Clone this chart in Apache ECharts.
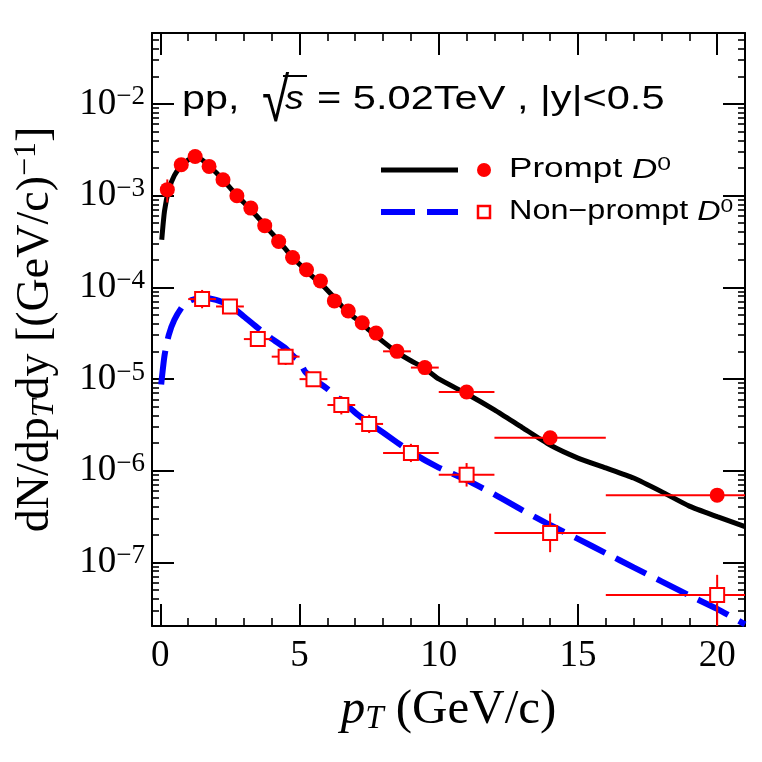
<!DOCTYPE html>
<html><head><meta charset="utf-8">
<script src="https://cdn.jsdelivr.net/npm/echarts@6/dist/echarts.min.js"></script>
<style>html,body{margin:0;padding:0;background:#fff}#c{width:762px;height:762px}</style>
</head><body><div id="c"></div>
<script>
// ---------------- data ----------------
const xMajor = [0, 5, 10, 15, 20];
const xMinor = [1, 2, 3, 4, 6, 7, 8, 9, 11, 12, 13, 14, 16, 17, 18, 19];
const yMajorExp = [-7, -6, -5, -4, -3, -2];
const X_MIN = -0.3, X_MAX = 21.0;
const Y_MIN = 2.02e-8, Y_MAX = 5.93e-2;

// Prompt D0 data points
const promptPt   = [0.25, 0.75, 1.25, 1.75, 2.25, 2.75, 3.25, 3.75, 4.25, 4.75, 5.25, 5.75, 6.25, 6.75, 7.25, 7.75, 8.5, 9.5, 11, 14, 20];
const promptPtLo = [0, 0.5, 1, 1.5, 2, 2.5, 3, 3.5, 4, 4.5, 5, 5.5, 6, 6.5, 7, 7.5, 8, 9, 10, 12, 16];
const promptPtHi = [0.5, 1, 1.5, 2, 2.5, 3, 3.5, 4, 4.5, 5, 5.5, 6, 6.5, 7, 7.5, 8, 9, 10, 12, 16, 24];
const promptY    = [1.16e-3, 2.17e-3, 2.67e-3, 2.08e-3, 1.49e-3, 9.95e-4, 7.3e-4, 4.7e-4, 3.16e-4, 2.11e-4, 1.55e-4, 1.17e-4, 7.1e-5, 5.5e-5, 4.1e-5, 3.16e-5, 2.0e-5, 1.33e-5, 7.2e-6, 2.28e-6, 5.4e-7];
const promptYLo  = [8.4e-4, 2.0e-3, 2.5e-3, 1.95e-3, 1.4e-3, 9.3e-4, 6.8e-4, 4.4e-4, 2.95e-4, 1.97e-4, 1.45e-4, 1.09e-4, 6.6e-5, 5.1e-5, 3.8e-5, 2.9e-5, 1.85e-5, 1.22e-5, 6.6e-6, 2.05e-6, 4.7e-7];
const promptYHi  = [1.5e-3, 2.35e-3, 2.85e-3, 2.22e-3, 1.6e-3, 1.07e-3, 7.8e-4, 5.0e-4, 3.38e-4, 2.26e-4, 1.66e-4, 1.25e-4, 7.6e-5, 5.9e-5, 4.4e-5, 3.4e-5, 2.15e-5, 1.44e-5, 7.8e-6, 2.5e-6, 6.1e-7];

// Non-prompt D0 data points
const npPt   = [1.5, 2.5, 3.5, 4.5, 5.5, 6.5, 7.5, 9, 11, 14, 20];
const npPtLo = [1, 2, 3, 4, 5, 6, 7, 8, 10, 12, 16];
const npPtHi = [2, 3, 4, 5, 6, 7, 8, 10, 12, 16, 24];
const npY    = [7.43e-5, 6.17e-5, 2.72e-5, 1.75e-5, 9.95e-6, 5.2e-6, 3.23e-6, 1.56e-6, 9.0e-7, 2.09e-7, 4.4e-8];
const npYLo  = [5.9e-5, 5.1e-5, 2.26e-5, 1.42e-5, 8.3e-6, 4.1e-6, 2.57e-6, 1.24e-6, 6.7e-7, 1.29e-7, 1.4e-8];
const npYHi  = [9.35e-5, 7.4e-5, 3.27e-5, 2.15e-5, 1.19e-5, 6.5e-6, 4.07e-6, 1.96e-6, 1.21e-6, 3.4e-7, 7.3e-8];

// Model curves
const promptCurveX = [0.05, 0.15, 0.3, 0.5, 0.75, 1.0, 1.25, 1.5, 1.75, 2.0, 2.25, 2.5, 2.75, 3.0, 3.25, 3.5, 3.75, 4.0, 4.25, 4.5, 4.75, 5.0, 5.25, 5.5, 5.75, 6.0, 6.25, 6.5, 6.75, 7.0, 7.5, 8.0, 8.5, 9.0, 9.5, 10, 11, 12, 13, 14, 15, 16, 17, 18, 19, 20, 21];
const promptCurveY = [3.3e-4, 6.8e-4, 1.15e-3, 1.65e-3, 2.1e-3, 2.45e-3, 2.58e-3, 2.45e-3, 2.1e-3, 1.78e-3, 1.48e-3, 1.22e-3, 1.0e-3, 8.4e-4, 7.0e-4, 5.8e-4, 4.75e-4, 3.9e-4, 3.2e-4, 2.6e-4, 2.12e-4, 1.78e-4, 1.5e-4, 1.28e-4, 1.1e-4, 9.3e-5, 7.7e-5, 6.3e-5, 5.3e-5, 4.6e-5, 3.4e-5, 2.55e-5, 1.95e-5, 1.58e-5, 1.3e-5, 1.0e-5, 6.9e-6, 4.6e-6, 2.95e-6, 1.9e-6, 1.37e-6, 1.07e-6, 8.3e-7, 5.9e-7, 4.1e-7, 3.15e-7, 2.45e-7];
const npCurveX = [0.03, 0.15, 0.3, 0.5, 0.8, 1.1, 1.5, 2.0, 2.5, 3.0, 3.5, 4.0, 4.5, 4.8, 5.0, 5.2, 5.5, 6.0, 6.5, 7.0, 7.5, 8.0, 9.0, 10, 11, 12, 13, 14, 15, 16, 17, 18, 19, 20, 21];
const npCurveY = [8.7e-6, 1.8e-5, 3.0e-5, 4.4e-5, 6.2e-5, 7.2e-5, 7.7e-5, 7.3e-5, 6.3e-5, 4.8e-5, 3.6e-5, 2.75e-5, 2.15e-5, 1.75e-5, 1.55e-5, 1.2e-5, 1.0e-5, 7.8e-6, 5.8e-6, 4.3e-6, 3.3e-6, 2.6e-6, 1.6e-6, 1.08e-6, 7.9e-7, 5.5e-7, 3.7e-7, 2.55e-7, 1.8e-7, 1.26e-7, 8.8e-8, 6.2e-8, 4.35e-8, 3.1e-8, 2.1e-8];

// ---------------- build ----------------
const L = v => Math.log10(v);
const LOG_MIN = L(Y_MIN), LOG_MAX = L(Y_MAX);
const yMinor = [];
for (let e = -8; e <= -2; e++) for (let k = 2; k <= 9; k++) {
  const v = e + Math.log10(k);
  if (v > LOG_MIN && v < LOG_MAX) yMinor.push(v);
}
const SERIF = 'Liberation Serif';
const SANS = 'Liberation Sans';

function errItem(params, api) {
  const x = api.value(0), y = api.value(1);
  const xl = Math.max(api.value(2), X_MIN), xh = Math.min(api.value(3), X_MAX);
  const yl = Math.max(api.value(4), LOG_MIN), yh = Math.min(api.value(5), LOG_MAX);
  const a = api.coord([xl, y]), b = api.coord([xh, y]);
  const c = api.coord([x, yl]), d = api.coord([x, yh]);
  const st = { stroke: '#ff0000', lineWidth: 2 };
  return { type: 'group', children: [
    { type: 'line', shape: { x1: a[0], y1: a[1], x2: b[0], y2: b[1] }, style: st },
    { type: 'line', shape: { x1: c[0], y1: c[1], x2: d[0], y2: d[1] }, style: st }
  ]};
}

const tickLine = { color: '#000', width: 2 };
function xAx(pos, values, len, main) {
  return {
    type: 'value', min: X_MIN, max: X_MAX, position: pos,
    axisLine: { show: main, onZero: false, lineStyle: tickLine },
    axisTick: { show: true, inside: true, length: len, customValues: values, lineStyle: { color: '#000', width: main ? 2 : 1.6 } },
    axisLabel: (main && pos === 'bottom') ? { show: true, customValues: xMajor, fontFamily: SERIF, fontSize: 37, color: '#000', margin: 12 } : { show: false },
    splitLine: { show: false }
  };
}
function yAx(pos, values, len, main) {
  return {
    type: 'value', min: LOG_MIN, max: LOG_MAX, position: pos,
    axisLine: { show: main, onZero: false, lineStyle: tickLine },
    axisTick: { show: true, inside: true, length: len, customValues: values, lineStyle: { color: '#000', width: main ? 2 : 1.6 } },
    axisLabel: (main && pos === 'left') ? {
      show: true, customValues: yMajorExp, margin: 7,
      formatter: v => '{b|10}{s|\u2212' + Math.round(-v) + '}',
      rich: {
        b: { fontFamily: SERIF, fontSize: 37, color: '#000', lineHeight: 40 },
        s: { fontFamily: SERIF, fontSize: 27, color: '#000', lineHeight: 27, verticalAlign: 'top' }
      }
    } : { show: false },
    splitLine: { show: false }
  };
}

const xAxes = [xAx('bottom', xMajor, 22, true), xAx('bottom', xMinor, 8, false), xAx('top', xMajor, 22, true), xAx('top', xMinor, 8, false)];
xAxes[0].name = '{i|p}{sub|T}{n| (GeV/c)}';
xAxes[0].nameLocation = 'middle';
xAxes[0].nameGap = 58;
xAxes[0].nameTextStyle = { rich: {
  i: { fontFamily: SERIF, fontStyle: 'italic', fontSize: 49, color: '#000', lineHeight: 52 },
  sub: { fontFamily: SERIF, fontStyle: 'italic', fontSize: 33, color: '#000', lineHeight: 33, verticalAlign: 'bottom' },
  n: { fontFamily: SERIF, fontSize: 49, color: '#000', lineHeight: 52 }
}};
const yAxes = [yAx('left', yMajorExp, 22, true), yAx('left', yMinor, 7, false), yAx('right', yMajorExp, 22, true), yAx('right', yMinor, 7, false)];
yAxes[0].name = '{n|dN/dp}{sub|T}{n|dy [(GeV/c)}{sup|\u22121}{n|]}';
yAxes[0].nameLocation = 'middle';
yAxes[0].nameGap = 91;
yAxes[0].nameTextStyle = { rich: {
  n: { fontFamily: SERIF, fontSize: 46, color: '#000', lineHeight: 50 },
  sub: { fontFamily: SERIF, fontStyle: 'italic', fontSize: 32, color: '#000', lineHeight: 32, verticalAlign: 'bottom' },
  sup: { fontFamily: SERIF, fontSize: 32, color: '#000', lineHeight: 32, verticalAlign: 'top' }
}};

const titleFont = { fontFamily: SANS, fontSize: 33, fill: '#000' };
const option = {
  animation: false,
  backgroundColor: '#fff',
  grid: { left: 152, top: 33, right: 17, bottom: 136, containLabel: false },
  xAxis: xAxes,
  yAxis: yAxes,
  series: [
    { name: 'Prompt model', type: 'line', xAxisIndex: 0, yAxisIndex: 0, showSymbol: false, symbol: 'none', smooth: 0.2, clip: true, z: 2,
      lineStyle: { color: '#000', width: 5 },
      data: promptCurveX.map((x, i) => [x, L(promptCurveY[i])]) },
    { name: 'Non-prompt model', type: 'line', xAxisIndex: 0, yAxisIndex: 0, showSymbol: false, symbol: 'none', smooth: 0.2, clip: true, z: 2,
      lineStyle: { color: '#0000ff', width: 6, type: [34, 12] },
      data: npCurveX.map((x, i) => [x, L(npCurveY[i])]) },
    { name: 'Prompt err', type: 'custom', xAxisIndex: 0, yAxisIndex: 0, renderItem: errItem, clip: true, z: 3,
      encode: { x: 0, y: 1 },
      data: promptPt.map((x, i) => [x, L(promptY[i]), promptPtLo[i], promptPtHi[i], L(promptYLo[i]), L(promptYHi[i])]) },
    { name: 'Non-prompt err', type: 'custom', xAxisIndex: 0, yAxisIndex: 0, renderItem: errItem, clip: true, z: 3,
      encode: { x: 0, y: 1 },
      data: npPt.map((x, i) => [x, L(npY[i]), npPtLo[i], npPtHi[i], L(npYLo[i]), L(npYHi[i])]) },
    { name: 'Prompt D0', type: 'scatter', xAxisIndex: 0, yAxisIndex: 0, symbol: 'circle', symbolSize: 15, z: 5,
      itemStyle: { color: '#ff0000', opacity: 1 },
      data: promptPt.map((x, i) => [x, L(promptY[i])]) },
    { name: 'Non-prompt D0', type: 'scatter', xAxisIndex: 0, yAxisIndex: 0, symbol: 'rect', symbolSize: 14, z: 5,
      itemStyle: { color: '#ffffff', borderColor: '#ff0000', borderWidth: 2, opacity: 1 },
      data: npPt.map((x, i) => [x, L(npY[i])]) }
  ],
  graphic: [
    // header text: pp, sqrt(s) = 5.02TeV , |y|<0.5
    { type: 'text', x: 182, y: 100, scaleX: 1.25, z: 10, style: Object.assign({ text: 'pp,', verticalAlign: 'middle' }, titleFont) },
    { type: 'text', x: 262, y: 104, scaleX: 0.8, z: 10, style: { text: '\u221A', verticalAlign: 'middle', fontFamily: SANS, fontSize: 62, fill: '#000' } },
    { type: 'text', x: 285, y: 100, scaleX: 1.1, z: 10, style: { text: 's', verticalAlign: 'middle', fontFamily: SANS, fontStyle: 'italic', fontSize: 34, fill: '#000' } },
    { type: 'line', z: 10, shape: { x1: 283, y1: 76, x2: 307, y2: 76 }, style: { stroke: '#000', lineWidth: 2 } },
    { type: 'text', x: 317, y: 100, scaleX: 1.26, z: 10, style: Object.assign({ text: '= 5.02TeV , |y|<0.5', verticalAlign: 'middle' }, titleFont) },
    // legend
    { type: 'line', z: 10, shape: { x1: 381, y1: 170, x2: 458, y2: 170 }, style: { stroke: '#000', lineWidth: 5 } },
    { type: 'circle', z: 10, shape: { cx: 484, cy: 170, r: 7 }, style: { fill: '#ff0000' } },
    { type: 'text', x: 509, y: 170, scaleX: 1.3, z: 10, style: {
      text: '{a|Prompt }{d|D}{s|0}', verticalAlign: 'middle',
      rich: {
        a: { fontFamily: SANS, fontSize: 27, fill: '#000', lineHeight: 30 },
        d: { fontFamily: SANS, fontStyle: 'italic', fontSize: 27, fill: '#000', lineHeight: 30 },
        s: { fontFamily: SANS, fontSize: 19, fill: '#000', lineHeight: 20, verticalAlign: 'top' }
      } } },
    { type: 'line', z: 10, shape: { x1: 381, y1: 212, x2: 458, y2: 212 }, style: { stroke: '#0000ff', lineWidth: 6, lineDash: [34, 12] } },
    { type: 'rect', z: 10, shape: { x: 478, y: 206, width: 12, height: 12 }, style: { fill: '#fff', stroke: '#ff0000', lineWidth: 2.5 } },
    { type: 'text', x: 509, y: 212, scaleX: 1.2, z: 10, style: {
      text: '{a|Non\u2212prompt }{d|D}{s|0}', verticalAlign: 'middle',
      rich: {
        a: { fontFamily: SANS, fontSize: 27, fill: '#000', lineHeight: 30 },
        d: { fontFamily: SANS, fontStyle: 'italic', fontSize: 27, fill: '#000', lineHeight: 30 },
        s: { fontFamily: SANS, fontSize: 19, fill: '#000', lineHeight: 20, verticalAlign: 'top' }
      } } }
  ]
};
const chart = echarts.init(document.getElementById('c'), null, { renderer: 'canvas' });
chart.setOption(option);
</script>
</body></html>
